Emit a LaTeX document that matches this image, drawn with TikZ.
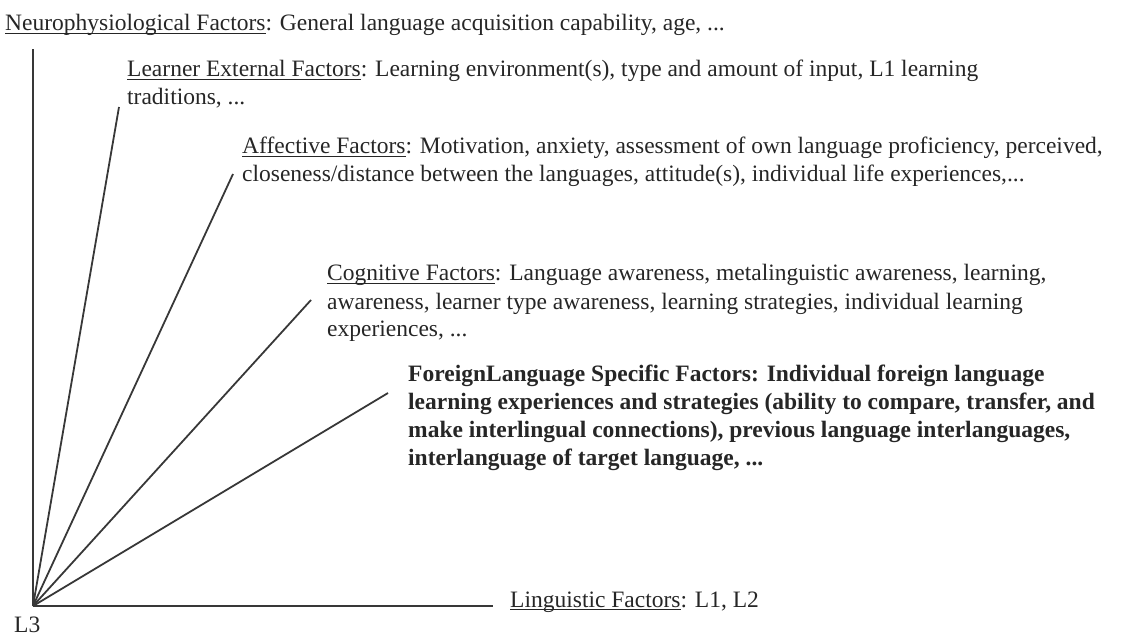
\documentclass[tikz,border=0pt]{standalone}
\usepackage{fontspec}
\setmainfont{Liberation Serif}
\newcommand{\myul}[1]{\setbox0\hbox{#1}\rlap{\rule[-3pt]{\wd0}{1.1pt}}\box0}
\begin{document}
\begin{tikzpicture}[x=1pt,y=-1pt,
  txt/.style={anchor=base west,inner sep=0pt,text=black!85,font=\fontsize{23.5}{28}\selectfont},
  btxt/.style={txt,font=\fontsize{23.5}{28}\selectfont\bfseries},
  ray/.style={draw=black!78,line width=1.8pt}]
\useasboundingbox (0,0) rectangle (1127,636);
\coordinate (O) at (33,606);
\coordinate (eN) at (33,49);
\coordinate (eL) at (119,107);
\coordinate (eA) at (233,174);
\coordinate (eC) at (311,300);
\coordinate (eF) at (388,393);
\coordinate (eG) at (493,606);
\draw[ray] (O) -- (eN);
\draw[ray] (O) -- (eL);
\draw[ray] (O) -- (eA);
\draw[ray] (O) -- (eC);
\draw[ray] (O) -- (eF);
\draw[ray] (O) -- (eG);
\node[txt] (ne) at (5,31) {\myul{Neurophysiological Factors}: General language acquisition capability, age, ...};
\node[txt] (le1) at (127,77) {\myul{Learner External Factors}: Learning environment(s), type and amount of input, L1 learning};
\node[txt] (le2) at (127,105) {traditions, ...};
\node[txt] (af1) at (242,154) {\myul{Affective Factors}: Motivation, anxiety, assessment of own language proficiency, perceived,};
\node[txt] (af2) at (242,182) {closeness/distance between the languages, attitude(s), individual life experiences,...};
\node[txt] (co1) at (327,281) {\myul{Cognitive Factors}: Language awareness, metalinguistic awareness, learning,};
\node[txt] (co2) at (327,309) {awareness, learner type awareness, learning strategies, individual learning};
\node[txt] (co3) at (327,337) {experiences, ...};
\node[btxt] (fl1) at (408,381) {ForeignLanguage Specific Factors: Individual foreign language};
\node[btxt] (fl2) at (408,409) {learning experiences and strategies (ability to compare, transfer, and};
\node[btxt] (fl3) at (408,437) {make interlingual connections), previous language interlanguages,};
\node[btxt] (fl4) at (408,465) {interlanguage of target language, ...};
\node[txt] (li) at (510,607) {\myul{Linguistic Factors}: L1, L2};
\node[txt] (l3) at (14,632) {L3};
\end{tikzpicture}
\end{document}
